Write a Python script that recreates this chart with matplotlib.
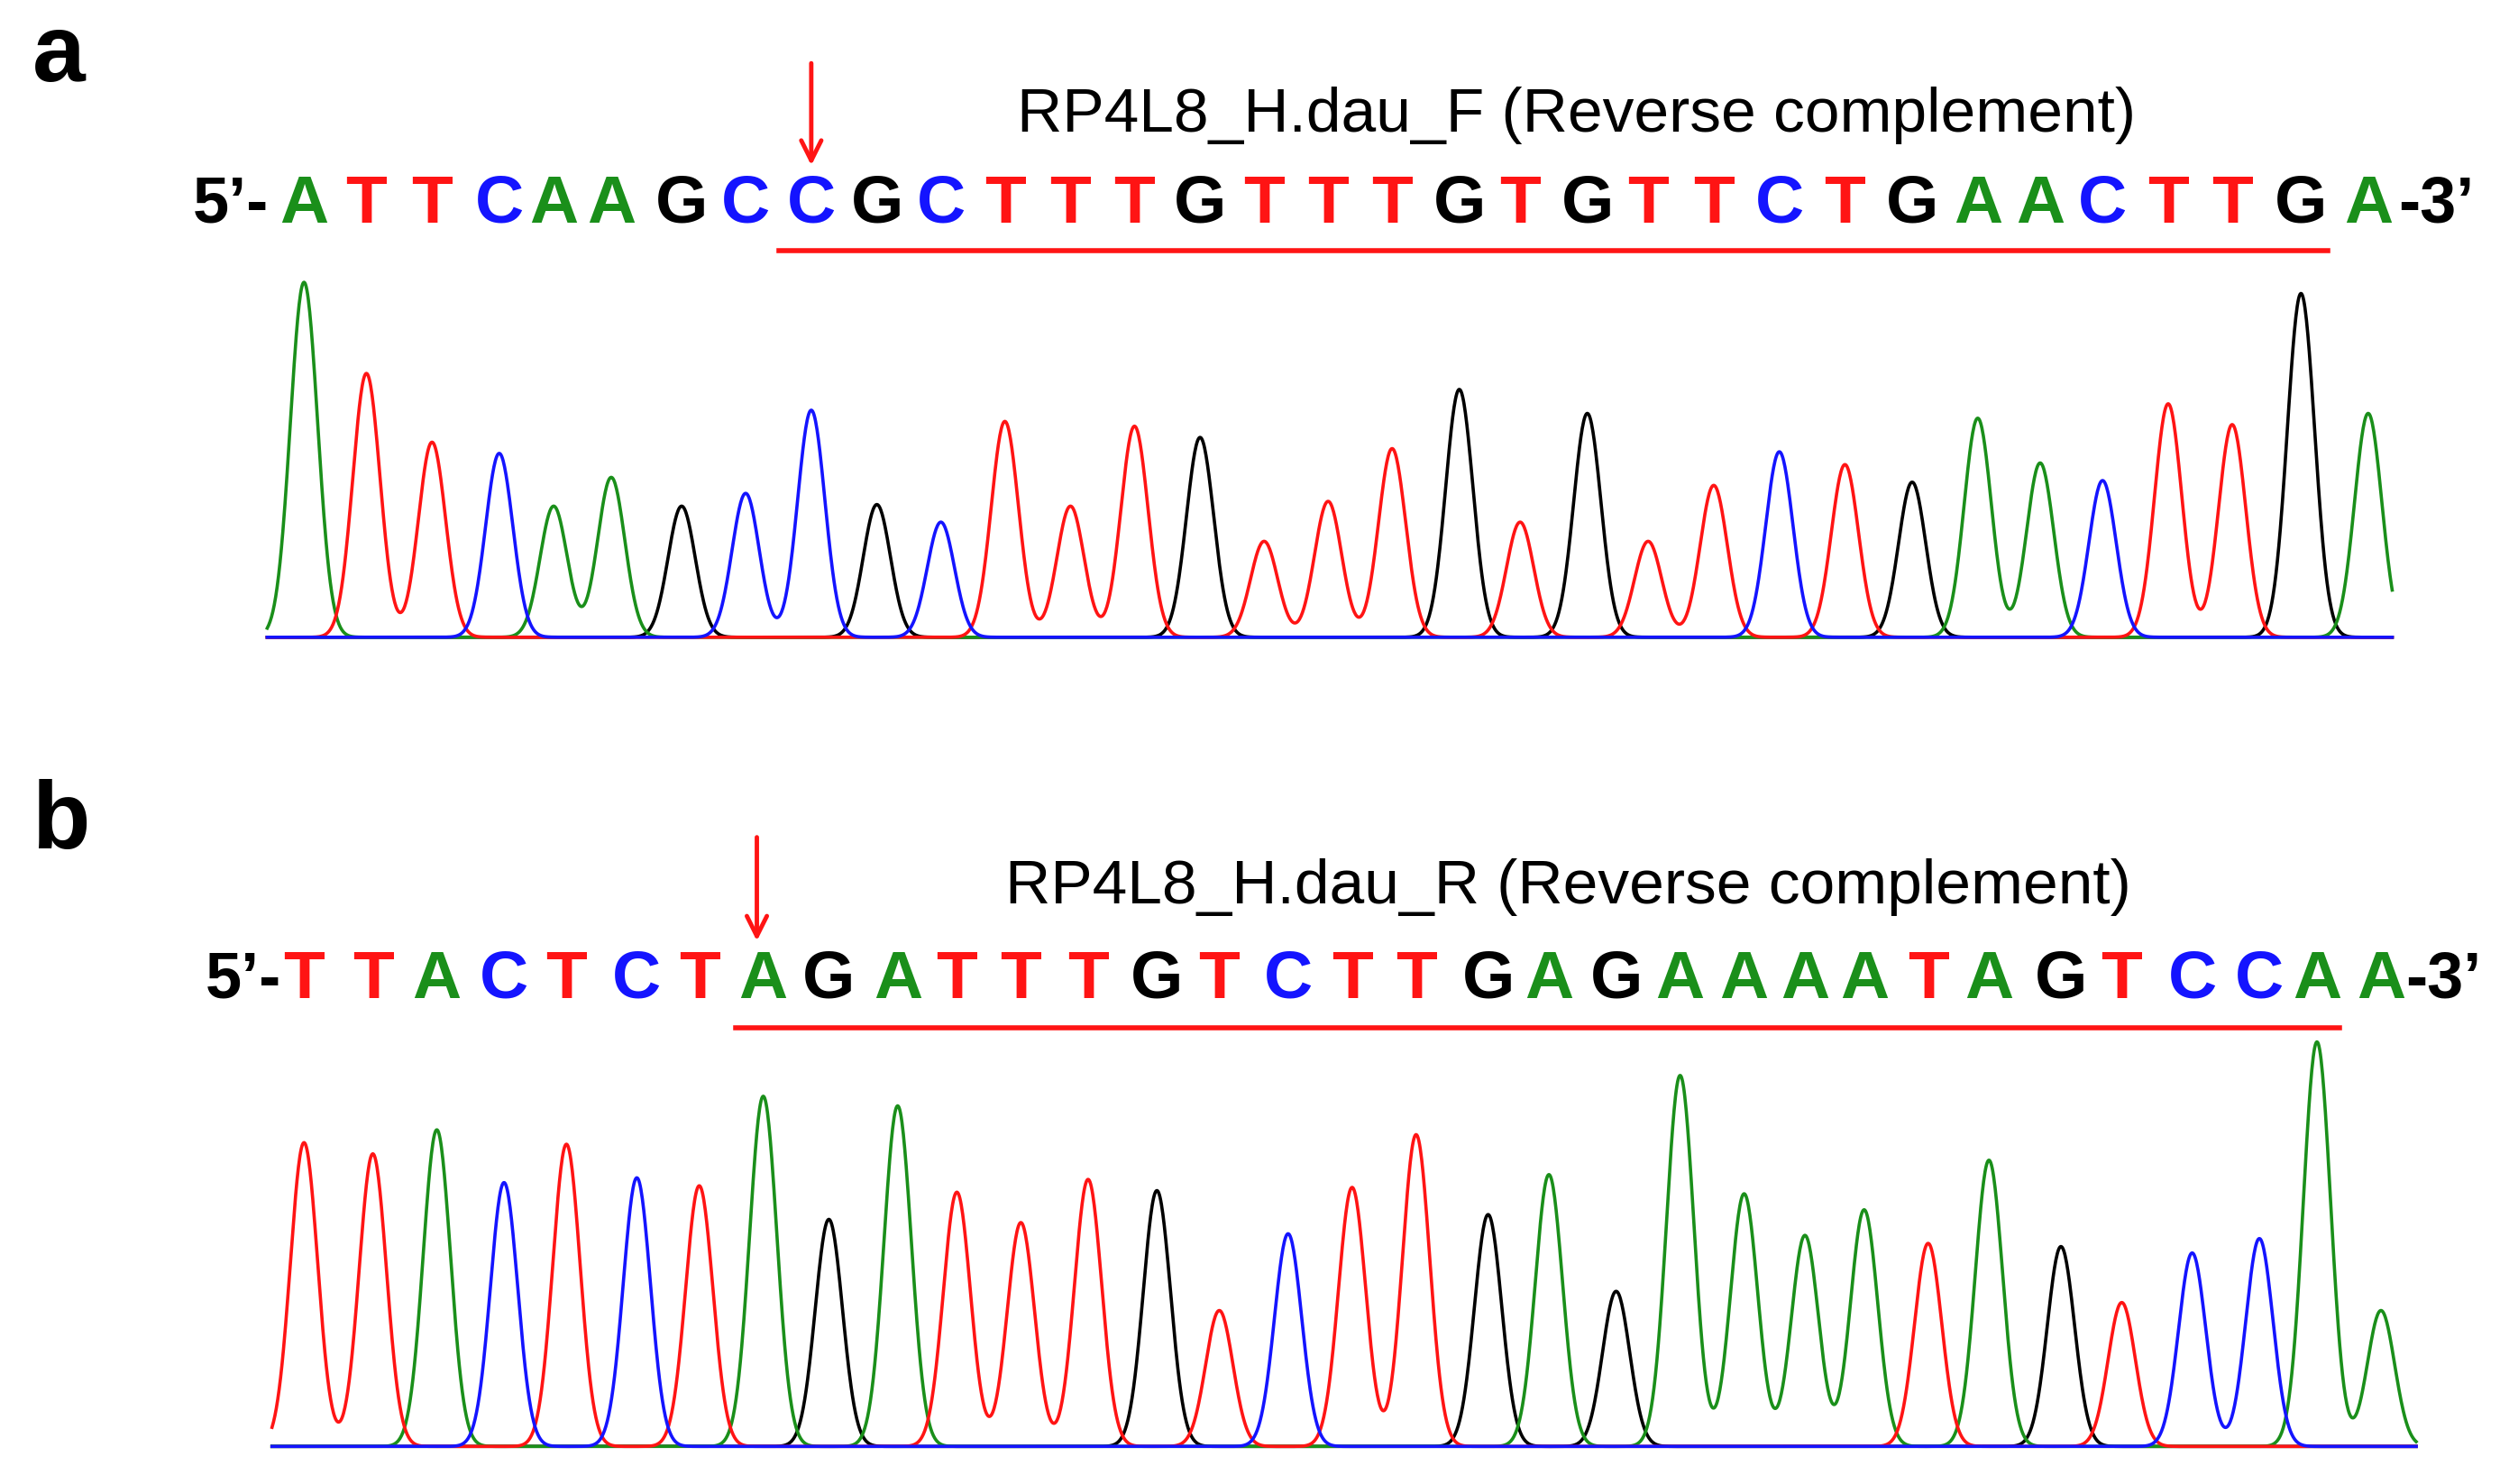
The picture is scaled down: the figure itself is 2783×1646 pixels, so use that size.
import numpy as np
import matplotlib
matplotlib.use("Agg")
import matplotlib.pyplot as plt

plt.rcParams['font.family'] = ['Liberation Sans', 'DejaVu Sans']

seq_a = "ATTCAAGCCGCTTTGTTTGTGTTCTGAACTTGA"
pos_a = [190,229,270,312,346,382,426,466,507,548,588,628,669,709,750,790,830,870,
         912,950,992,1030,1071,1112,1153,1195,1236,1275,1314,1355,1395,1438,1480]
h_a = [222,165,122,115,82,100,82,90,142,83,72,135,82,132,125,60,85,118,
       155,72,140,60,95,116,108,97,137,109,98,146,133,215,140]

seq_b = "TTACTCTAGATTTGTCTTGAGAAAATAGTCCAA"
pos_b = [190,233,273,315,354,398,437,477,518,561,598,638,680,723,762,805,845,885,
         930,968,1010,1050,1090,1128,1165,1205,1243,1288,1326,1370,1412,1448,1488]
h_b = [190,183,198,165,189,168,163,219,142,213,159,140,167,160,85,133,162,195,
       145,170,97,232,158,132,148,127,179,125,90,121,130,253,85]

titles = ["RP4L8_H.dau_F (Reverse complement)", "RP4L8_H.dau_R (Reverse complement)"]
labels = ["a", "b"]

colors = {"A": "#1a8f1a", "C": "#1414ff", "G": "#000000", "T": "#ff1414"}

fig = plt.figure(figsize=(27.83, 16.46), dpi=100)
ax = fig.add_axes([0, 0, 1, 1])
ax.set_xlim(0, 1568)
ax.set_ylim(928, 0)
ax.axis("off")

panels = [
    dict(seq=seq_a, pos=pos_a, h=h_a, base=400, xr=(167, 1495), seq_y=128, title_x=985, title_y=72,
         arrow_x=507, arrow=(38, 105), ul=(487, 1455, 157), lab_y=35, five=168, three=1499),
    dict(seq=seq_b, pos=pos_b, h=h_b, base=906, xr=(170, 1510), seq_y=613, title_x=980, title_y=555,
         arrow_x=473, arrow=(522, 590), ul=(460, 1462, 643), lab_y=515, five=176, three=1503),
]

for lab, title, p in zip(labels, titles, panels):
    ax.text(20, p["lab_y"], lab, fontsize=76, fontweight="bold", va="center", ha="left")
    ax.text(p["title_x"], p["title_y"], title, fontsize=50, va="center", ha="center")
    ax.text(p["five"], p["seq_y"], "5\u2019-", fontsize=52, fontweight="bold", va="center", ha="right")
    ax.text(p["three"], p["seq_y"], "-3\u2019", fontsize=52, fontweight="bold", va="center", ha="left")
    for ch, x in zip(p["seq"], p["pos"]):
        ax.text(x, p["seq_y"], ch, fontsize=54, fontweight="bold", color=colors[ch], va="center", ha="center")
    x0, x1, yu = p["ul"]
    ax.plot([x0, x1], [yu, yu], color="#ff1414", lw=4)
    ax.annotate("", xy=(p["arrow_x"], p["arrow"][1]), xytext=(p["arrow_x"], p["arrow"][0]),
                arrowprops=dict(arrowstyle="->", color="#ff1414", lw=3.5, mutation_scale=40))
    xs = np.linspace(p["xr"][0], p["xr"][1], 3000)
    for base in "GATC":
        y = np.full_like(xs, 1.5)
        for ch, x, h in zip(p["seq"], p["pos"], p["h"]):
            if ch == base:
                y += h * np.exp(-0.5 * ((xs - x) / 8.5) ** 2)
        ax.plot(xs, p["base"] - y, color=colors[base], lw=2.6)

fig.savefig("out.png", dpi=100)
